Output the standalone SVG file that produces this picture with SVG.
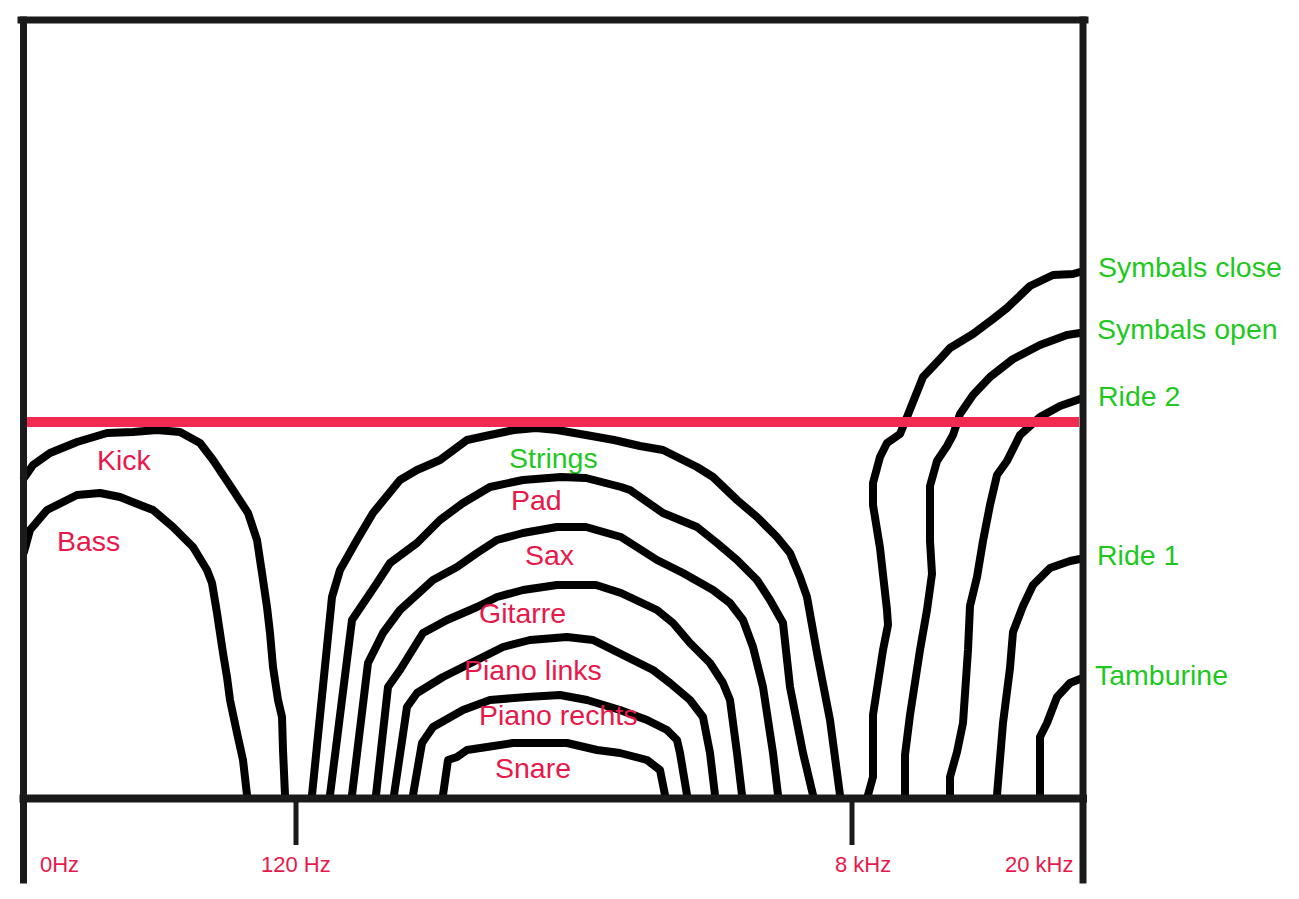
<svg xmlns="http://www.w3.org/2000/svg" width="1299" height="899" viewBox="0 0 1299 899">
<style>
.frame{stroke:#1a1a1a;stroke-width:7;fill:none;stroke-linecap:square}
.tick{stroke:#1a1a1a;stroke-width:5;fill:none}
.curve{stroke:#000;stroke-width:8;fill:none;stroke-linejoin:round;stroke-linecap:round}
.lbl{font-family:"Liberation Sans",Arial,sans-serif;font-size:28.5px}
.ax{font-family:"Liberation Sans",Arial,sans-serif;font-size:22px;fill:#e8184a}
.red{fill:#e8184a}
.green{fill:#1fc81f}
</style>
<rect width="1299" height="899" fill="#fff"/>
<g id="curves">
<g id="kick"><path class="curve" d="M24,478 L33,465 L50,453 L77,442 L107,433 L133,432 L157,430 L180,432 L200,443 L213,460 L233,490 L248,513 L257,540 L262,573 L267,607 L270,633 L273,667 L278,700 L282,717 L283,750 L285,795"/><text class="lbl red" x="97" y="470">Kick</text></g>
<g id="bass"><path class="curve" d="M24,552 L30,530 L47,510 L77,495 L100,493 L120,497 L140,505 L153,510 L173,527 L193,547 L207,570 L212,583 L217,613 L223,653 L227,677 L230,700 L237,733 L243,760 L247,795"/><text class="lbl red" x="57" y="551">Bass</text></g>
<g id="strings"><path class="curve" d="M312,795 L332,597 L340,570 L357,540 L373,513 L400,480 L417,470 L440,460 L467,440 L490,435 L514,430 L536,428 L557,430 L586,435 L614,440 L640,446 L663,450 L697,467 L713,477 L737,500 L757,517 L777,537 L790,553 L800,577 L807,597 L817,653 L830,720 L840,795"/><text class="lbl green" x="509" y="468">Strings</text></g>
<g id="pad"><path class="curve" d="M330,795 L352,620 L377,583 L390,563 L417,543 L440,520 L463,503 L490,487 L523,480 L561,477 L586,478 L621,487 L630,490 L663,513 L697,527 L717,543 L737,560 L757,580 L770,600 L783,623 L790,687 L803,753 L813,795"/><text class="lbl red" x="511" y="510">Pad</text></g>
<g id="sax"><path class="curve" d="M352,795 L368,663 L383,633 L400,610 L433,580 L457,567 L477,553 L497,540 L523,533 L557,527 L586,527 L621,537 L657,560 L683,573 L713,590 L730,603 L743,620 L753,647 L763,687 L773,753 L778,795"/><text class="lbl red" x="525" y="565">Sax</text></g>
<g id="gitarre"><path class="curve" d="M376,795 L388,687 L400,670 L423,633 L447,620 L477,607 L497,597 L523,590 L557,585 L596,585 L621,593 L657,610 L673,623 L690,643 L710,663 L723,683 L730,700 L737,753 L742,795"/><text class="lbl red" x="479" y="623">Gitarre</text></g>
<g id="piano-links"><path class="curve" d="M394,795 L407,707 L417,693 L443,677 L477,660 L503,647 L530,640 L567,637 L593,640 L613,650 L633,660 L653,670 L670,683 L690,700 L703,717 L710,753 L715,795"/><text class="lbl red" x="464" y="680">Piano links</text></g>
<g id="piano-rechts"><path class="curve" d="M413,795 L422,743 L433,727 L463,710 L490,700 L527,697 L560,695 L587,700 L620,710 L647,720 L667,730 L677,740 L680,753 L687,795"/><text class="lbl red" x="479" y="725">Piano rechts</text></g>
<g id="snare"><path class="curve" d="M443,795 L448,760 L457,757 L467,750 L487,747 L513,743 L567,743 L597,750 L620,753 L647,760 L660,770 L665,795"/><text class="lbl red" x="495" y="778">Snare</text></g>
<g id="symbals-close"><path class="curve" d="M868,795 L873,777 L873,715 L883,650 L888,625 L887,610 L880,548 L873,505 L873,483 L880,457 L887,443 L900,434 L907,417 L917,392 L923,377 L940,359 L950,348 L973,334 L993,319 L1007,308 L1030,286 L1053,275 L1073,274 L1080,272"/><text class="lbl green" x="1098" y="277">Symbals close</text></g>
<g id="symbals-open"><path class="curve" d="M905,795 L905,755 L910,715 L920,650 L927,610 L932,574 L930,541 L930,486 L937,461 L947,446 L953,435 L960,414 L973,395 L990,377 L1013,359 L1040,345 L1067,335 L1080,333"/><text class="lbl green" x="1097" y="339">Symbals open</text></g>
<g id="ride-2"><path class="curve" d="M950,795 L950,777 L957,752 L963,723 L968,650 L970,606 L977,577 L983,541 L990,505 L997,475 L1007,461 L1020,435 L1040,417 L1060,406 L1080,399"/><text class="lbl green" x="1098" y="406">Ride 2</text></g>
<g id="ride-1"><path class="curve" d="M997,795 L1000,759 L1003,723 L1010,668 L1013,632 L1023,606 L1033,585 L1050,568 L1070,561 L1080,559"/><text class="lbl green" x="1097" y="565">Ride 1</text></g>
<g id="tamburine"><path class="curve" d="M1040,795 L1040,737 L1047,723 L1057,697 L1070,683 L1080,679"/><text class="lbl green" x="1095" y="685">Tamburine</text></g>
</g>
<g id="threshold"><line x1="27" y1="422" x2="1079" y2="422" stroke="#f02a50" stroke-width="10"/></g>
<g id="axes">
<line class="frame" x1="21" y1="20" x2="1085" y2="20"/>
<line class="frame" x1="23.5" y1="20" x2="23.5" y2="880"/>
<line class="frame" x1="1083" y1="20" x2="1083" y2="880"/>
<line class="frame" x1="23.5" y1="798.5" x2="1083" y2="798.5" style="stroke-width:8"/>
<line class="tick" x1="296" y1="798" x2="296" y2="845"/>
<line class="tick" x1="852" y1="798" x2="852" y2="845"/>
<text class="ax" x="40" y="872">0Hz</text>
<text class="ax" x="261" y="872">120 Hz</text>
<text class="ax" x="835" y="872">8 kHz</text>
<text class="ax" x="1005" y="872">20 kHz</text>
</g>
</svg>
